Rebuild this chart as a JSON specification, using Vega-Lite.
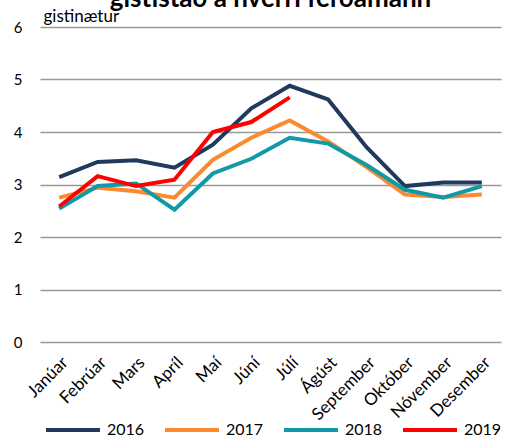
{
  "$schema": "https://vega.github.io/schema/vega-lite/v6.json",
  "autosize": "none",
  "width": 461,
  "height": 315,
  "padding": {"left": 40, "top": 27, "right": 11, "bottom": 99},
  "config": {
    "font": "Lato",
    "view": {"stroke": null}
  },
  "title": {
    "text": "gististað á hverri ferðamann",
    "fontSize": 26,
    "fontWeight": "bold",
    "color": "#000000",
    "anchor": "middle",
    "offset": -5
  },
  "data": {
    "values": [
      {"month": "Janúar", "year": "2016", "value": 3.14},
      {"month": "Febrúar", "year": "2016", "value": 3.43},
      {"month": "Mars", "year": "2016", "value": 3.46},
      {"month": "Apríl", "year": "2016", "value": 3.32},
      {"month": "Maí", "year": "2016", "value": 3.76},
      {"month": "Júní", "year": "2016", "value": 4.45},
      {"month": "Júlí", "year": "2016", "value": 4.88},
      {"month": "Ágúst", "year": "2016", "value": 4.62},
      {"month": "September", "year": "2016", "value": 3.71},
      {"month": "Október", "year": "2016", "value": 2.97},
      {"month": "Nóvember", "year": "2016", "value": 3.04},
      {"month": "Desember", "year": "2016", "value": 3.04},
      {"month": "Janúar", "year": "2017", "value": 2.75},
      {"month": "Febrúar", "year": "2017", "value": 2.94},
      {"month": "Mars", "year": "2017", "value": 2.87},
      {"month": "Apríl", "year": "2017", "value": 2.75},
      {"month": "Maí", "year": "2017", "value": 3.47},
      {"month": "Júní", "year": "2017", "value": 3.89},
      {"month": "Júlí", "year": "2017", "value": 4.22},
      {"month": "Ágúst", "year": "2017", "value": 3.82},
      {"month": "September", "year": "2017", "value": 3.33},
      {"month": "Október", "year": "2017", "value": 2.81},
      {"month": "Nóvember", "year": "2017", "value": 2.76},
      {"month": "Desember", "year": "2017", "value": 2.81},
      {"month": "Janúar", "year": "2018", "value": 2.54},
      {"month": "Febrúar", "year": "2018", "value": 2.97},
      {"month": "Mars", "year": "2018", "value": 3.02},
      {"month": "Apríl", "year": "2018", "value": 2.52},
      {"month": "Maí", "year": "2018", "value": 3.21},
      {"month": "Júní", "year": "2018", "value": 3.49},
      {"month": "Júlí", "year": "2018", "value": 3.89},
      {"month": "Ágúst", "year": "2018", "value": 3.78},
      {"month": "September", "year": "2018", "value": 3.37},
      {"month": "Október", "year": "2018", "value": 2.9},
      {"month": "Nóvember", "year": "2018", "value": 2.75},
      {"month": "Desember", "year": "2018", "value": 2.97},
      {"month": "Janúar", "year": "2019", "value": 2.58},
      {"month": "Febrúar", "year": "2019", "value": 3.16},
      {"month": "Mars", "year": "2019", "value": 2.97},
      {"month": "Apríl", "year": "2019", "value": 3.09},
      {"month": "Maí", "year": "2019", "value": 4.0},
      {"month": "Júní", "year": "2019", "value": 4.19},
      {"month": "Júlí", "year": "2019", "value": 4.66}
    ]
  },
  "mark": {"type": "line", "strokeWidth": 4},
  "encoding": {
    "x": {
      "field": "month",
      "type": "ordinal",
      "sort": ["Janúar", "Febrúar", "Mars", "Apríl", "Maí", "Júní", "Júlí", "Ágúst", "September", "Október", "Nóvember", "Desember"],
      "axis": {
        "title": null,
        "labelAngle": -45,
        "labelAlign": "right",
        "labelBaseline": "top",
        "labelFontSize": 17,
        "labelColor": "#000000",
        "ticks": false,
        "domain": false,
        "labelPadding": 12
      }
    },
    "y": {
      "field": "value",
      "type": "quantitative",
      "scale": {"domain": [0, 6]},
      "axis": {
        "values": [0, 1, 2, 3, 4, 5, 6],
        "title": "gistinætur",
        "titleAngle": 0,
        "titleX": 3,
        "titleY": -6,
        "titleAlign": "left",
        "titleBaseline": "alphabetic",
        "titleFontSize": 17,
        "titleFontWeight": "normal",
        "titleColor": "#000000",
        "labelFontSize": 15,
        "labelColor": "#000000",
        "labelPadding": 18,
        "ticks": false,
        "domain": false,
        "gridColor": "#999999",
        "gridWidth": 1.5,
        "gridOpacity": 1
      }
    },
    "color": {
      "field": "year",
      "type": "nominal",
      "scale": {"domain": ["2016", "2017", "2018", "2019"], "range": ["#1F3A5C", "#FB8A2E", "#1199A8", "#FF0000"]},
      "legend": {
        "title": null,
        "orient": "none",
        "direction": "horizontal",
        "legendX": 4,
        "legendY": 374,
        "symbolType": "M-1,0H1",
        "symbolSize": 2916,
        "symbolStrokeWidth": 4,
        "labelFontSize": 16,
        "labelColor": "#000000",
        "columnPadding": 12,
        "labelOffset": 5
      }
    }
  }
}
